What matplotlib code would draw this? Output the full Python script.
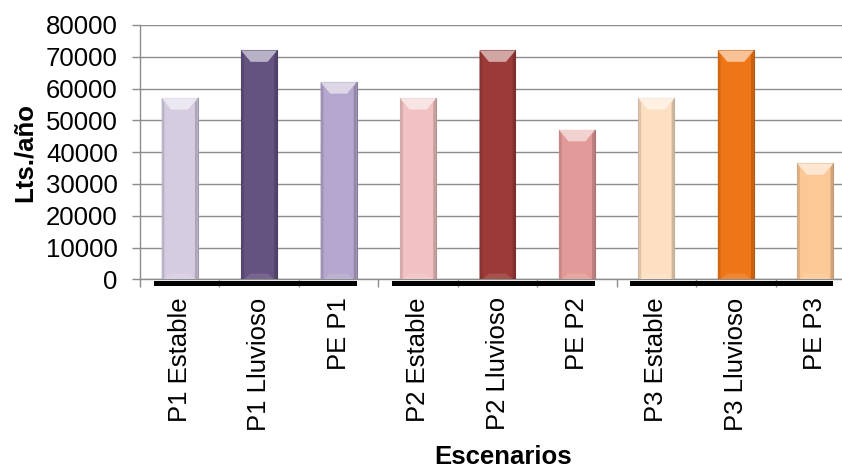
import matplotlib
matplotlib.use("Agg")
import matplotlib.pyplot as plt
import matplotlib.transforms as mtransforms
from matplotlib.patches import Polygon, Rectangle
from matplotlib.colors import to_rgb
import numpy as np

plt.rcParams["font.family"] = ["Liberation Sans", "DejaVu Sans"]

# Scenario categories and annual volumes (litres per year)
categories = ["P1 Estable", "P1 Lluvioso", "PE P1",
              "P2 Estable", "P2 Lluvioso", "PE P2",
              "P3 Estable", "P3 Lluvioso", "PE P3"]
values = [57000, 72000, 62000,
          57000, 72000, 47000,
          57000, 72000, 36500]
bar_colors = ["#D5CCE2", "#645280", "#B4A6CC",
              "#F2C2C2", "#9C3A38", "#E29A98",
              "#FDDFC2", "#EF7616", "#FCC896"]
groups = [(0, 2), (3, 5), (6, 8)]
y_ticks = [0, 10000, 20000, 30000, 40000, 50000, 60000, 70000, 80000]


def shade(color, f):
    r, g, b = to_rgb(color)
    if f >= 0:
        return (r + (1 - r) * f, g + (1 - g) * f, b + (1 - b) * f)
    return (r * (1 + f), g * (1 + f), b * (1 + f))


fig = plt.figure(figsize=(8.42, 4.68), dpi=100)
ax = fig.add_axes([140 / 842, 0.4032, 715 / 842, 0.5434])

x = np.arange(len(categories))
w = 0.453

ax.set_xlim(-0.5, len(categories) - 0.5)
ax.set_ylim(0, 80000)
ax.yaxis.grid(True, color="#8C8C8C", linewidth=1.0)
ax.set_axisbelow(True)

bars = ax.bar(x, values, width=w, color=bar_colors,
              edgecolor=[shade(c, -0.25) for c in bar_colors],
              linewidth=0.8, zorder=3)

# bevel: light top facet and darker side facets on each bar
ix = 0.12
dy = 3600
sx = 0.035
for xi, v, c in zip(x, values, bar_colors):
    x0, x1 = xi - w / 2, xi + w / 2
    ax.add_patch(Polygon([(x0, v), (x1, v), (x1 - ix, v - dy), (x0 + ix, v - dy)],
                         closed=True, facecolor=shade(c, 0.55), edgecolor="none", zorder=4))
    ax.add_patch(Polygon([(x0, v), (x0 + sx, v - dy * 0.4), (x0 + sx, 0), (x0, 0)],
                         closed=True, facecolor=shade(c, -0.12), edgecolor="none", zorder=4))
    ax.add_patch(Polygon([(x1, v), (x1 - sx, v - dy * 0.4), (x1 - sx, 0), (x1, 0)],
                         closed=True, facecolor=shade(c, -0.18), edgecolor="none", zorder=4))
    ax.add_patch(Polygon([(x0 + sx, 0), (x1 - sx, 0), (x1 - ix, dy * 0.5), (x0 + ix, dy * 0.5)],
                         closed=True, facecolor=shade(c, 0.12), edgecolor="none", zorder=4))

# black base band under each group of scenarios
trans = mtransforms.blended_transform_factory(ax.transData, ax.transAxes)
for a, b in groups:
    left = x[a] - w / 2 - 0.1
    right = x[b] + w / 2
    ax.add_patch(Rectangle((left, -0.026), right - left, 0.021, transform=trans,
                           facecolor="black", edgecolor="none", clip_on=False, zorder=5))

for s in ["top", "right"]:
    ax.spines[s].set_visible(False)
for s in ["left", "bottom"]:
    ax.spines[s].set_color("#8C8C8C")
    ax.spines[s].set_linewidth(1.0)

ax.set_yticks(y_ticks)
ax.set_yticklabels([str(t) for t in y_ticks], fontsize=18.5)
ax.tick_params(axis="y", length=6, width=1.0, color="#8C8C8C", pad=10)

ax.set_xticks(x)
ax.set_xticklabels(categories, rotation=90, fontsize=18.5, va="top", ha="center")
ax.tick_params(axis="x", which="major", length=0, pad=13)
ax.set_xticks(np.arange(-0.5, len(categories), 1.0), minor=True)
ax.tick_params(axis="x", which="minor", length=6, width=1.0, color="#8C8C8C")

fig.text(25 / 842, 1 - 153 / 468, "Lts./año", rotation=90, ha="center", va="center",
         fontsize=18.5, fontweight="bold")
fig.text(503 / 842, 1 - 457 / 468, "Escenarios", ha="center", va="center",
         fontsize=18.5, fontweight="bold")

fig.savefig("out.png", dpi=100)
